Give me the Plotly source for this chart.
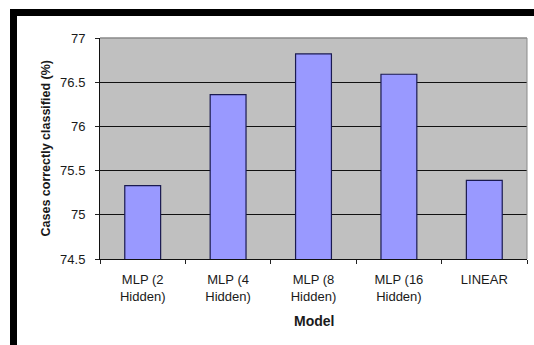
import plotly.graph_objects as go

categories = ["MLP (2 Hidden)", "MLP (4 Hidden)", "MLP (8 Hidden)", "MLP (16 Hidden)", "LINEAR"]
tick_labels = ["MLP (2<br>Hidden)", "MLP (4<br>Hidden)", "MLP (8<br>Hidden)", "MLP (16<br>Hidden)", "LINEAR"]
values = [75.33, 76.36, 76.82, 76.59, 75.39]
y_ticks = [74.5, 75, 75.5, 76, 76.5, 77]
y_tick_text = ["74.5", "75", "75.5", "76", "76.5", "77"]

W, H = 534, 345
L, R, T, B = 100, 7, 38, 86
pw, ph = W - L - R, H - T - B

def px(x):
    return (x - L) / pw

def py(y):
    return (H - B - y) / ph

FAM = "Liberation Sans, Arial, sans-serif"
font = dict(family=FAM, size=13, color="#1a1a1a")

fig = go.Figure(go.Bar(
    x=categories, y=values,
    marker=dict(color="#9999FF", line=dict(color="#1a1a50", width=1.2)),
    width=0.42,
))

fig.update_layout(
    width=W, height=H,
    margin=dict(l=L, r=R, t=T, b=B, autoexpand=False),
    paper_bgcolor="white", plot_bgcolor="#C0C0C0",
    showlegend=False, font=font,
    xaxis=dict(
        tickmode="array", tickvals=categories, ticktext=tick_labels,
        ticks="outside", tickson="boundaries", ticklen=4, tickcolor="#222",
        showline=True, linecolor="#111", linewidth=1, showgrid=False,
        tickfont=font, fixedrange=True, ticklabelstandoff=8,
    ),
    yaxis=dict(
        range=[74.5, 77], tickvals=y_ticks, ticktext=y_tick_text,
        ticks="outside", ticklen=4, tickcolor="#222",
        showline=True, linecolor="#111", linewidth=1,
        showgrid=True, gridcolor="#111", gridwidth=1,
        tickfont=dict(family=FAM, size=13, color="#1a1a1a"), zeroline=False,
        ticklabelstandoff=7,
    ),
    shapes=[
        dict(type="line", xref="paper", yref="paper", x0=0, x1=1, y0=1, y1=1,
             line=dict(color="#8a8a8a", width=1.5), layer="above"),
        dict(type="line", xref="paper", yref="paper", x0=1, x1=1, y0=0, y1=1,
             line=dict(color="#8a8a8a", width=1), layer="above"),
        dict(type="rect", xref="paper", yref="paper", x0=px(10), x1=px(534),
             y0=py(16), y1=py(9), fillcolor="black", line=dict(width=0)),
        dict(type="rect", xref="paper", yref="paper", x0=px(10), x1=px(17),
             y0=py(345), y1=py(9), fillcolor="black", line=dict(width=0)),
    ],
    annotations=[
        dict(text="<b>Cases correctly classified (%)</b>", xref="paper", yref="paper",
             x=px(45), y=0.5, showarrow=False, textangle=-90,
             font=dict(family=FAM, size=12.5, color="#1a1a1a"),
             xanchor="center", yanchor="middle"),
        dict(text="<b>Model</b>", xref="paper", yref="paper",
             x=0.5, y=py(321), showarrow=False,
             font=dict(family=FAM, size=14, color="#1a1a1a"),
             xanchor="center", yanchor="middle"),
    ],
)

fig.write_html("out.html")
